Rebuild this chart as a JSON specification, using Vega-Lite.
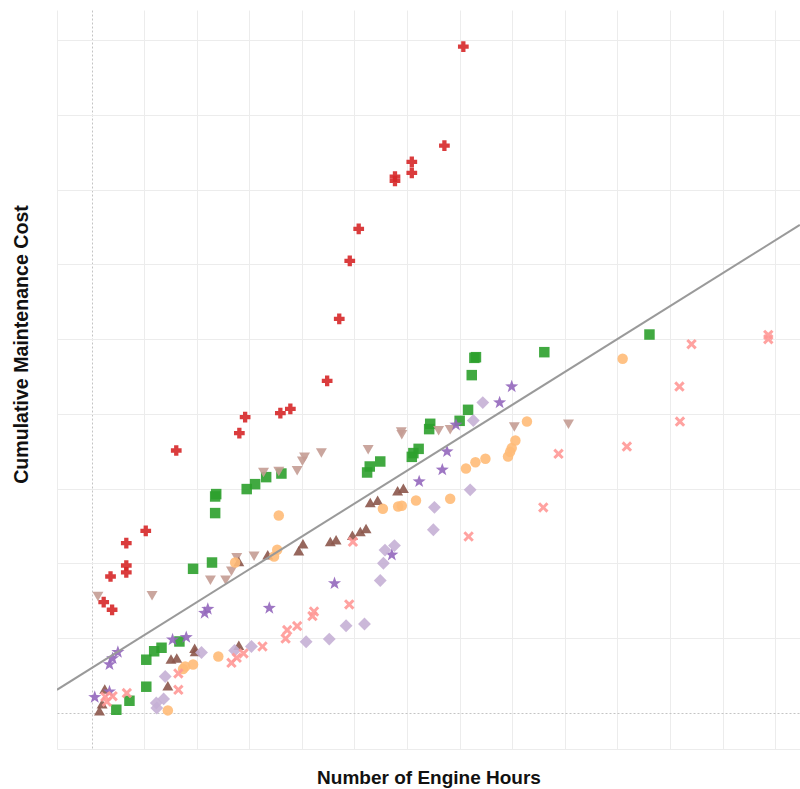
{
  "$schema": "https://vega.github.io/schema/vega-lite/v6.json",
  "width": 743,
  "height": 739,
  "autosize": "none",
  "padding": {"left": 57, "top": 10, "right": 0, "bottom": 40},
  "background": "white",
  "config": {
    "view": {"stroke": null},
    "font": "Liberation Sans",
    "axis": {
      "labels": false,
      "ticks": false,
      "domain": false,
      "grid": true,
      "gridColor": {"condition": {"test": "datum.value === 0", "value": "#c4c4c4"}, "value": "#ececec"},
      "gridDash": {"condition": {"test": "datum.value === 0", "value": [2, 2]}, "value": []},
      "gridWidth": 1,
      "titleFont": "Liberation Sans",
      "titleFontWeight": "bold",
      "titleFontSize": 19,
      "titleColor": "#111111"
    }
  },
  "datasets": {
    "trend": [
      {"hours": -66, "cost": 311},
      {"hours": 1347, "cost": 6528}
    ],
    "points": [
      {"fleet": "A", "hours": 707, "cost": 8912}, {"fleet": "A", "hours": 671, "cost": 7588}, {"fleet": "A", "hours": 609, "cost": 7370}, {"fleet": "A", "hours": 609, "cost": 7223}, {"fleet": "A", "hours": 577, "cost": 7174}, {"fleet": "A", "hours": 577, "cost": 7116}, {"fleet": "A", "hours": 508, "cost": 6475}, {"fleet": "A", "hours": 491, "cost": 6047}, {"fleet": "A", "hours": 471, "cost": 5271}, {"fleet": "A", "hours": 448, "cost": 4443}, {"fleet": "A", "hours": 378, "cost": 4068}, {"fleet": "A", "hours": 359, "cost": 4011}, {"fleet": "A", "hours": 292, "cost": 3957}, {"fleet": "A", "hours": 281, "cost": 3743}, {"fleet": "A", "hours": 161, "cost": 3511}, {"fleet": "A", "hours": 103, "cost": 2437}, {"fleet": "A", "hours": 66, "cost": 2273}, {"fleet": "A", "hours": 66, "cost": 1973}, {"fleet": "A", "hours": 66, "cost": 1880}, {"fleet": "A", "hours": 36, "cost": 1826}, {"fleet": "A", "hours": 23, "cost": 1484}, {"fleet": "A", "hours": 39, "cost": 1381},
      {"fleet": "B", "hours": 1061, "cost": 5062}, {"fleet": "B", "hours": 861, "cost": 4826}, {"fleet": "B", "hours": 731, "cost": 4759}, {"fleet": "B", "hours": 728, "cost": 4750}, {"fleet": "B", "hours": 723, "cost": 4519}, {"fleet": "B", "hours": 716, "cost": 4055}, {"fleet": "B", "hours": 700, "cost": 3908}, {"fleet": "B", "hours": 644, "cost": 3868}, {"fleet": "B", "hours": 642, "cost": 3797}, {"fleet": "B", "hours": 622, "cost": 3533}, {"fleet": "B", "hours": 612, "cost": 3476}, {"fleet": "B", "hours": 609, "cost": 3426}, {"fleet": "B", "hours": 549, "cost": 3364}, {"fleet": "B", "hours": 529, "cost": 3297}, {"fleet": "B", "hours": 524, "cost": 3217}, {"fleet": "B", "hours": 361, "cost": 3203}, {"fleet": "B", "hours": 332, "cost": 3155}, {"fleet": "B", "hours": 311, "cost": 3061}, {"fleet": "B", "hours": 295, "cost": 2995}, {"fleet": "B", "hours": 237, "cost": 2928}, {"fleet": "B", "hours": 235, "cost": 2896}, {"fleet": "B", "hours": 235, "cost": 2674}, {"fleet": "B", "hours": 229, "cost": 2013}, {"fleet": "B", "hours": 193, "cost": 1929}, {"fleet": "B", "hours": 167, "cost": 957}, {"fleet": "B", "hours": 133, "cost": 873}, {"fleet": "B", "hours": 119, "cost": 826}, {"fleet": "B", "hours": 104, "cost": 713}, {"fleet": "B", "hours": 104, "cost": 352}, {"fleet": "B", "hours": 72, "cost": 164}, {"fleet": "B", "hours": 47, "cost": 44},
      {"fleet": "C", "hours": 12, "cost": 1559}, {"fleet": "C", "hours": 115, "cost": 1568}, {"fleet": "C", "hours": 226, "cost": 1775}, {"fleet": "C", "hours": 255, "cost": 1775}, {"fleet": "C", "hours": 266, "cost": 1896}, {"fleet": "C", "hours": 276, "cost": 2076}, {"fleet": "C", "hours": 309, "cost": 2096}, {"fleet": "C", "hours": 327, "cost": 3217}, {"fleet": "C", "hours": 356, "cost": 3230}, {"fleet": "C", "hours": 391, "cost": 3239}, {"fleet": "C", "hours": 401, "cost": 3366}, {"fleet": "C", "hours": 405, "cost": 3422}, {"fleet": "C", "hours": 437, "cost": 3476}, {"fleet": "C", "hours": 526, "cost": 3520}, {"fleet": "C", "hours": 589, "cost": 3757}, {"fleet": "C", "hours": 590, "cost": 3721}, {"fleet": "C", "hours": 660, "cost": 3774}, {"fleet": "C", "hours": 682, "cost": 3787}, {"fleet": "C", "hours": 804, "cost": 3824}, {"fleet": "C", "hours": 907, "cost": 3861},
      {"fleet": "D", "hours": 15, "cost": 31}, {"fleet": "D", "hours": 20, "cost": 124}, {"fleet": "D", "hours": 25, "cost": 321}, {"fleet": "D", "hours": 145, "cost": 365}, {"fleet": "D", "hours": 151, "cost": 722}, {"fleet": "D", "hours": 162, "cost": 735}, {"fleet": "D", "hours": 196, "cost": 866}, {"fleet": "D", "hours": 197, "cost": 824}, {"fleet": "D", "hours": 280, "cost": 906}, {"fleet": "D", "hours": 280, "cost": 2027}, {"fleet": "D", "hours": 335, "cost": 2116}, {"fleet": "D", "hours": 394, "cost": 2170}, {"fleet": "D", "hours": 402, "cost": 2263}, {"fleet": "D", "hours": 454, "cost": 2294}, {"fleet": "D", "hours": 465, "cost": 2317}, {"fleet": "D", "hours": 496, "cost": 2377}, {"fleet": "D", "hours": 511, "cost": 2428}, {"fleet": "D", "hours": 522, "cost": 2468}, {"fleet": "D", "hours": 530, "cost": 2816}, {"fleet": "D", "hours": 544, "cost": 2845}, {"fleet": "D", "hours": 582, "cost": 2972}, {"fleet": "D", "hours": 593, "cost": 3005},
      {"fleet": "E", "hours": 6, "cost": 211}, {"fleet": "E", "hours": 34, "cost": 285}, {"fleet": "E", "hours": 34, "cost": 650}, {"fleet": "E", "hours": 40, "cost": 730}, {"fleet": "E", "hours": 50, "cost": 813}, {"fleet": "E", "hours": 154, "cost": 980}, {"fleet": "E", "hours": 180, "cost": 1013}, {"fleet": "E", "hours": 215, "cost": 1337}, {"fleet": "E", "hours": 221, "cost": 1390}, {"fleet": "E", "hours": 338, "cost": 1404}, {"fleet": "E", "hours": 462, "cost": 1733}, {"fleet": "E", "hours": 571, "cost": 2116}, {"fleet": "E", "hours": 623, "cost": 3096}, {"fleet": "E", "hours": 667, "cost": 3253}, {"fleet": "E", "hours": 676, "cost": 3497}, {"fleet": "E", "hours": 693, "cost": 3854}, {"fleet": "E", "hours": 776, "cost": 4152}, {"fleet": "E", "hours": 799, "cost": 4366},
      {"fleet": "F", "hours": 145, "cost": 35}, {"fleet": "F", "hours": 174, "cost": 588}, {"fleet": "F", "hours": 178, "cost": 623}, {"fleet": "F", "hours": 193, "cost": 650}, {"fleet": "F", "hours": 241, "cost": 757}, {"fleet": "F", "hours": 273, "cost": 2013}, {"fleet": "F", "hours": 347, "cost": 2094}, {"fleet": "F", "hours": 353, "cost": 2183}, {"fleet": "F", "hours": 356, "cost": 2642}, {"fleet": "F", "hours": 554, "cost": 2731}, {"fleet": "F", "hours": 583, "cost": 2762}, {"fleet": "F", "hours": 590, "cost": 2771}, {"fleet": "F", "hours": 617, "cost": 2842}, {"fleet": "F", "hours": 682, "cost": 2865}, {"fleet": "F", "hours": 712, "cost": 3270}, {"fleet": "F", "hours": 730, "cost": 3353}, {"fleet": "F", "hours": 749, "cost": 3400}, {"fleet": "F", "hours": 792, "cost": 3430}, {"fleet": "F", "hours": 796, "cost": 3493}, {"fleet": "F", "hours": 799, "cost": 3543}, {"fleet": "F", "hours": 806, "cost": 3644}, {"fleet": "F", "hours": 828, "cost": 3898}, {"fleet": "F", "hours": 1010, "cost": 4737},
      {"fleet": "G", "hours": 123, "cost": 134}, {"fleet": "G", "hours": 124, "cost": 67}, {"fleet": "G", "hours": 137, "cost": 189}, {"fleet": "G", "hours": 140, "cost": 489}, {"fleet": "G", "hours": 209, "cost": 810}, {"fleet": "G", "hours": 272, "cost": 836}, {"fleet": "G", "hours": 304, "cost": 890}, {"fleet": "G", "hours": 408, "cost": 953}, {"fleet": "G", "hours": 452, "cost": 989}, {"fleet": "G", "hours": 484, "cost": 1167}, {"fleet": "G", "hours": 519, "cost": 1191}, {"fleet": "G", "hours": 549, "cost": 1773}, {"fleet": "G", "hours": 555, "cost": 2003}, {"fleet": "G", "hours": 558, "cost": 2179}, {"fleet": "G", "hours": 576, "cost": 2239}, {"fleet": "G", "hours": 650, "cost": 2451}, {"fleet": "G", "hours": 652, "cost": 2751}, {"fleet": "G", "hours": 720, "cost": 2985}, {"fleet": "G", "hours": 726, "cost": 3912}, {"fleet": "G", "hours": 744, "cost": 4152},
      {"fleet": "H", "hours": 26, "cost": 218}, {"fleet": "H", "hours": 29, "cost": 151}, {"fleet": "H", "hours": 40, "cost": 225}, {"fleet": "H", "hours": 67, "cost": 267}, {"fleet": "H", "hours": 165, "cost": 311}, {"fleet": "H", "hours": 165, "cost": 529}, {"fleet": "H", "hours": 266, "cost": 672}, {"fleet": "H", "hours": 276, "cost": 739}, {"fleet": "H", "hours": 289, "cost": 797}, {"fleet": "H", "hours": 325, "cost": 890}, {"fleet": "H", "hours": 369, "cost": 996}, {"fleet": "H", "hours": 372, "cost": 1110}, {"fleet": "H", "hours": 391, "cost": 1163}, {"fleet": "H", "hours": 420, "cost": 1297}, {"fleet": "H", "hours": 423, "cost": 1358}, {"fleet": "H", "hours": 490, "cost": 1452}, {"fleet": "H", "hours": 497, "cost": 2290}, {"fleet": "H", "hours": 717, "cost": 2361}, {"fleet": "H", "hours": 859, "cost": 2749}, {"fleet": "H", "hours": 888, "cost": 3467}, {"fleet": "H", "hours": 1018, "cost": 3564}, {"fleet": "H", "hours": 1119, "cost": 3898}, {"fleet": "H", "hours": 1118, "cost": 4366}, {"fleet": "H", "hours": 1141, "cost": 4933}, {"fleet": "H", "hours": 1287, "cost": 5057}, {"fleet": "H", "hours": 1287, "cost": 5000}
    ]
  },
  "layer": [
    {
      "data": {"name": "points"},
      "mark": {"type": "point", "filled": true, "opacity": 0.9},
      "encoding": {
        "x": {
          "field": "hours", "type": "quantitative",
          "title": "Number of Engine Hours",
          "scale": {"domain": [-65.8, 1347.3], "nice": false, "zero": false},
          "axis": {"values": [-65.8, 0, 100, 200, 300, 400, 500, 600, 700, 800, 900, 1000, 1100, 1200, 1300], "titleY": 34, "titleBaseline": "alphabetic"}
        },
        "y": {
          "field": "cost", "type": "quantitative",
          "title": "Cumulative Maintenance Cost",
          "scale": {"domain": [-481, 9402], "nice": false, "zero": false},
          "axis": {"values": [-481, 0, 1000, 2000, 3000, 4000, 5000, 6000, 7000, 8000, 9000], "titleX": -30, "titleY": 334, "titleAlign": "center", "titleBaseline": "alphabetic", "titleAngle": -90, "titleFontSize": 19.6}
        },
        "color": {
          "field": "fleet", "type": "nominal", "legend": null,
          "scale": {"domain": ["A", "B", "C", "D", "E", "F", "G", "H"], "range": ["#d62728", "#2ca02c", "#c49c94", "#8c564b", "#9467bd", "#ffbb78", "#c5b0d5", "#ff9896"]}
        },
        "shape": {
          "field": "fleet", "type": "nominal", "legend": null,
          "scale": {"domain": ["A", "B", "C", "D", "E", "F", "G", "H"], "range": ["cross", "square", "triangle-down", "triangle-up", "M0,-1L0.235,-0.324L0.951,-0.309L0.380,0.124L0.588,0.809L0,0.4L-0.588,0.809L-0.380,0.124L-0.951,-0.309L-0.235,-0.324Z", "circle", "diamond", "M-1,-0.6L-0.6,-1L0,-0.4L0.6,-1L1,-0.6L0.4,0L1,0.6L0.6,1L0,0.4L-0.6,1L-1,0.6L-0.4,0Z"]}
        },
        "size": {
          "field": "fleet", "type": "nominal", "legend": null,
          "scale": {"type": "ordinal", "domain": ["A", "B", "C", "D", "E", "F", "G", "H"], "range": [115, 110, 120, 120, 190, 110, 165, 110]}
        }
      }
    },
    {
      "data": {"name": "trend"},
      "mark": {"type": "line", "color": "#9a9a9a", "strokeWidth": 2, "clip": true},
      "encoding": {
        "x": {"field": "hours", "type": "quantitative"},
        "y": {"field": "cost", "type": "quantitative"}
      }
    }
  ]
}
